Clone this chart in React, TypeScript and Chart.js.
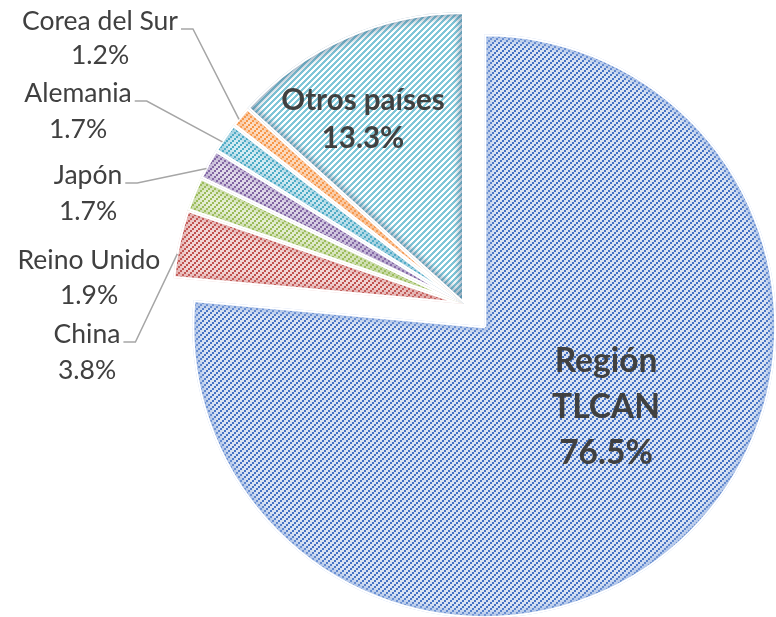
import React, { useEffect, useRef } from "react";
import { Chart, registerables } from "chart.js";

Chart.register(...registerables);

// ---- data ----
const categories = ["Región TLCAN", "China", "Reino Unido", "Japón", "Alemania", "Corea del Sur", "Otros países"];
const shares = [76.5, 3.8, 1.9, 1.7, 1.7, 1.2, 13.3];
const shareLabels = ["76.5%", "3.8%", "1.9%", "1.7%", "1.7%", "1.2%", "13.3%"];
const explodePx = [30, 0, 0, 0, 0, 0, 0];

// ---- styles ----
const lineColors = ["#4472c4", "#c0504d", "#9bbb59", "#8064a2", "#4bacc6", "#f79646", "#80c6d8"];
const backColors = ["#dae3f3", "#f2d5d4", "#e5eed4", "#e1daea", "#d4ecf3", "#fde2cb", "#ffffff"];
const shadeColors = [
  "rgba(150,178,225,0.75)",
  "rgba(205,120,118,0.45)",
  "rgba(160,190,100,0.45)",
  "rgba(140,115,175,0.45)",
  "rgba(90,170,200,0.45)",
  "rgba(245,160,95,0.45)",
  "rgba(70,110,140,0.55)",
];
const thickStripe = [false, false, false, false, false, false, true];
const TEXT = "#404040";
const FONT = "Lato, 'Open Sans', sans-serif";

// label layout (positions only)
const labelLayout = [
  { inside: true, split: true, x: 606, base: 372, gap: 46, font: `bold 33.5px ${FONT}` },
  { inside: false, leader: true, x: 87, base: 343, gap: 36, font: `26.5px ${FONT}` },
  { inside: false, leader: false, x: 89, base: 269, gap: 35, font: `26.5px ${FONT}` },
  { inside: false, leader: true, x: 88, base: 184, gap: 36, font: `26.5px ${FONT}` },
  { inside: false, leader: true, x: 78, base: 102, gap: 36, font: `26.5px ${FONT}` },
  { inside: false, leader: true, x: 100, base: 30, gap: 34, font: `26.5px ${FONT}` },
  { inside: true, split: false, x: 363, base: 110, gap: 38, font: `bold 29.5px ${FONT}` },
];

function makePattern(line: string, back: string, thick: boolean): CanvasPattern | string {
  const c = document.createElement("canvas");
  c.width = 6;
  c.height = 6;
  const g = c.getContext("2d");
  if (!g) return line;
  g.fillStyle = back;
  g.fillRect(0, 0, 6, 6);
  g.fillStyle = line;
  for (let x = 0; x < 6; x++) {
    for (let y = 0; y < 6; y++) {
      const on = thick ? (x + y) % 6 < 3 : (Math.floor(x / 2) + Math.floor(y / 2)) % 3 === 0;
      if (on) g.fillRect(x, y, 1, 1);
    }
  }
  const p = g.createPattern(c, "repeat");
  return p || line;
}

const explodePlugin = {
  id: "explodeSlices",
  afterDatasetUpdate(chart: any, args: any) {
    const meta = chart.getDatasetMeta(args.index);
    meta.data.forEach((arc: any, i: number) => {
      const d = explodePx[i] || 0;
      if (!d) return;
      const mid = (arc.startAngle + arc.endAngle) / 2;
      arc.x += Math.cos(mid) * d;
      arc.y += Math.sin(mid) * d;
    });
  },
};

const shadePlugin = {
  id: "edgeShade",
  afterDatasetsDraw(chart: any) {
    const ctx = chart.ctx as CanvasRenderingContext2D;
    const meta = chart.getDatasetMeta(0);
    meta.data.forEach((arc: any, i: number) => {
      const { x, y, startAngle, endAngle, outerRadius } = arc;
      const path = () => {
        ctx.beginPath();
        ctx.moveTo(x, y);
        ctx.arc(x, y, outerRadius, startAngle, endAngle);
        ctx.closePath();
      };
      ctx.save();
      path();
      ctx.clip();
      ctx.filter = "blur(3px)";
      ctx.lineWidth = 10;
      ctx.strokeStyle = shadeColors[i];
      path();
      ctx.stroke();
      ctx.filter = "none";
      ctx.lineWidth = 4;
      ctx.strokeStyle = "#ffffff";
      ctx.lineJoin = "bevel";
      path();
      ctx.stroke();
      ctx.restore();
    });
  },
};

const labelPlugin = {
  id: "sliceLabels",
  afterDraw(chart: any) {
    const ctx = chart.ctx as CanvasRenderingContext2D;
    const meta = chart.getDatasetMeta(0);
    meta.data.forEach((arc: any, i: number) => {
      const L = labelLayout[i];
      const lines = L.split ? categories[i].split(" ") : [categories[i]];
      lines.push(shareLabels[i]);
      ctx.save();
      ctx.font = L.font;
      ctx.fillStyle = TEXT;
      ctx.textAlign = "center";
      ctx.textBaseline = "alphabetic";
      lines.forEach((t, k) => ctx.fillText(t, L.x, L.base + k * L.gap));
      if (L.leader) {
        const w = ctx.measureText(lines[0]).width;
        const sx = L.x + w / 2 + 3;
        const ex = sx + 12;
        const a = arc.startAngle + 0.35 * (arc.endAngle - arc.startAngle);
        const r = arc.outerRadius - 1;
        const px = arc.x + Math.cos(a) * r;
        const py = arc.y + Math.sin(a) * r;
        ctx.strokeStyle = "#a6a6a6";
        ctx.lineWidth = 1.5;
        ctx.beginPath();
        ctx.moveTo(sx, L.base - 1);
        ctx.lineTo(ex, L.base - 1);
        ctx.lineTo(px, py);
        ctx.stroke();
      }
      ctx.restore();
    });
  },
};

export default function App() {
  const ref = useRef<HTMLCanvasElement | null>(null);
  useEffect(() => {
    if (!ref.current) return;
    const patterns = lineColors.map((c, i) => makePattern(c, backColors[i], thickStripe[i]));
    const chart = new Chart(ref.current, {
      type: "pie",
      data: {
        labels: categories,
        datasets: [
          {
            data: shares,
            backgroundColor: patterns as any,
            borderColor: "#ffffff",
            borderWidth: 4,
            radius: 292,
          } as any,
        ],
      },
      options: {
        responsive: false,
        animation: false,
        devicePixelRatio: 1,
        layout: { padding: { left: 152, right: 0, top: 0, bottom: 9 } },
        plugins: {
          legend: { display: false },
          tooltip: { enabled: false },
        },
      },
      plugins: [explodePlugin, shadePlugin, labelPlugin],
    });
    return () => chart.destroy();
  }, []);
  return (
    <div style={{ position: "fixed", left: 0, top: 0, width: 776, height: 617, background: "#ffffff" }}>
      <canvas ref={ref} width={776} height={617} style={{ display: "block", width: 776, height: 617 }} />
    </div>
  );
}
